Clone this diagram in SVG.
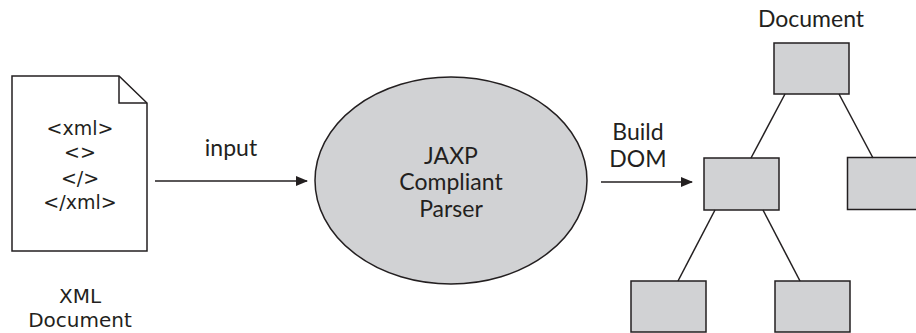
<svg xmlns="http://www.w3.org/2000/svg" width="916" height="333" viewBox="0 0 916 333">
<style>
.lbl{font-family:Lato,"Open Sans",sans-serif;font-size:23px;fill:#231f20;text-anchor:middle}
.code{font-family:"DejaVu Sans",sans-serif;font-size:19px;fill:#231f20;text-anchor:middle}
.cap{font-family:"DejaVu Sans",sans-serif;font-size:20px;fill:#231f20;text-anchor:middle}
.box{fill:#d1d2d4;stroke:#231f20;stroke-width:1.5}
.ln{stroke:#231f20;stroke-width:1.5;fill:none}
</style>
<defs>
<marker id="ah" markerWidth="12" markerHeight="10" refX="11" refY="5" orient="auto" markerUnits="userSpaceOnUse">
<path d="M0,0 L12,5 L0,10 Z" fill="#231f20"/>
</marker>
</defs>
<g id="xml-doc">
<path d="M12,76 L119,76 L147,103 L147,251 L12,251 Z" fill="#fff" stroke="#231f20" stroke-width="1.5"/>
<path d="M119,76 L119,103 L147,103" fill="none" stroke="#231f20" stroke-width="1.5"/>
<text class="code" x="80" y="135">&lt;xml&gt;</text>
<text class="code" x="80" y="159">&lt;&gt;</text>
<text class="code" x="80" y="185">&lt;/&gt;</text>
<text class="code" x="80" y="209">&lt;/xml&gt;</text>
<text class="cap" x="80" y="303">XML</text>
<text class="cap" x="80" y="327">Document</text>
</g>
<g id="parser">
<ellipse cx="451" cy="180.5" rx="136" ry="103.5" class="box"/>
<text class="lbl" x="451" y="164">JAXP</text>
<text class="lbl" x="451" y="190">Compliant</text>
<text class="lbl" x="451" y="217">Parser</text>
</g>
<g id="doc-root">
<text class="lbl" x="811" y="27">Document</text>
<rect x="774" y="43" width="75" height="51" class="box"/>
</g>
<g id="node-mid"><rect x="704" y="158" width="75" height="52" class="box"/></g>
<g id="node-right"><rect x="847.5" y="157.5" width="76" height="52" class="box"/></g>
<g id="node-bl"><rect x="631" y="281" width="75" height="51" class="box"/></g>
<g id="node-br"><rect x="775" y="281" width="75" height="51" class="box"/></g>
<g id="connectors">
<line class="ln" x1="155" y1="181" x2="307" y2="181" marker-end="url(#ah)"/>
<text class="lbl" x="231" y="156">input</text>
<line class="ln" x1="601" y1="182" x2="692" y2="182" marker-end="url(#ah)"/>
<text class="lbl" x="638" y="140">Build</text>
<text class="lbl" x="638" y="167">DOM</text>
<line class="ln" x1="785" y1="94" x2="751" y2="158"/>
<line class="ln" x1="839" y1="94" x2="873" y2="158"/>
<line class="ln" x1="715" y1="210" x2="678" y2="281"/>
<line class="ln" x1="763" y1="210" x2="800" y2="281"/>
</g>
</svg>
